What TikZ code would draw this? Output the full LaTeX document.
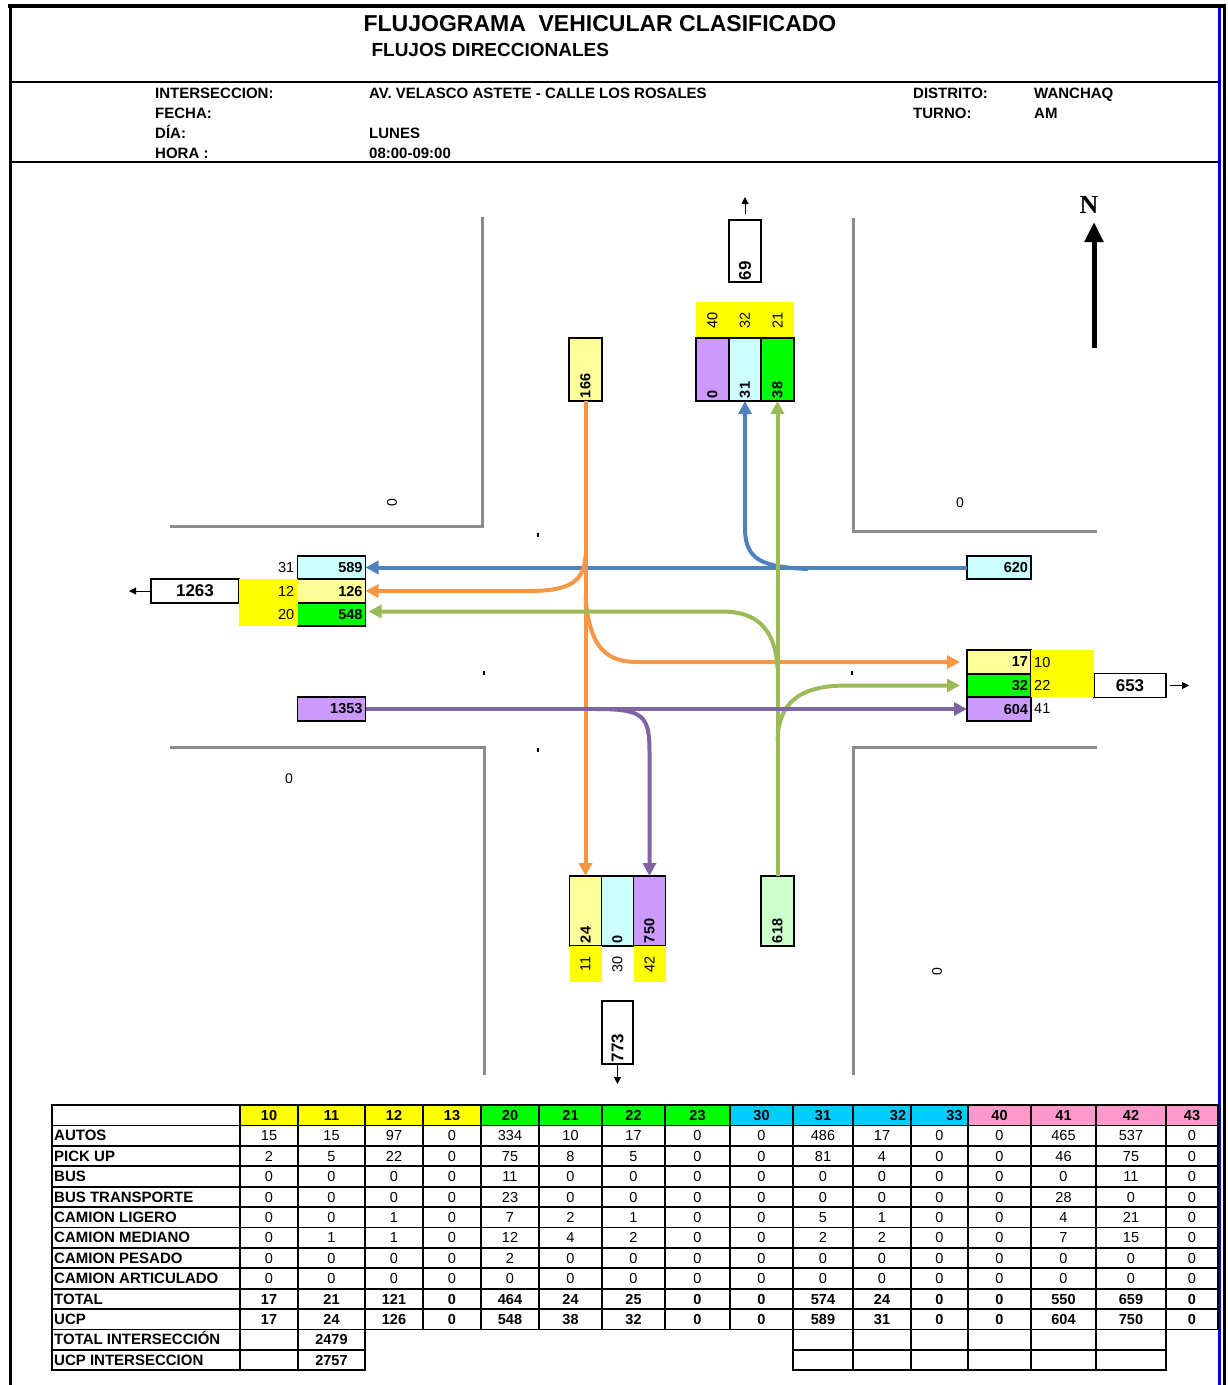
\documentclass[tikz,border=0pt]{standalone}
\usepackage{fontspec}
\setmainfont{Liberation Sans}
\newfontfamily\serifmark{Liberation Serif}
\usetikzlibrary{arrows.meta,positioning,calc}
\definecolor{flowblue}{HTML}{4F81BD}
\definecolor{floworange}{HTML}{F79646}
\definecolor{flowgreen}{HTML}{9BBB59}
\definecolor{flowpurple}{HTML}{8064A2}
\definecolor{cellcyan}{HTML}{CCFFFF}
\definecolor{cellyellow}{HTML}{FFFF99}
\definecolor{cellgreen}{HTML}{00FF00}
\definecolor{cellpurple}{HTML}{CC99FF}
\definecolor{cellmint}{HTML}{CCFFCC}
\definecolor{bgyellow}{HTML}{FFFF00}
\definecolor{headcyan}{HTML}{00CCFF}
\definecolor{headpink}{HTML}{FF99CC}
\definecolor{frameblue}{HTML}{0000EE}
\tikzset{
  hbox/.style={
    draw,
    line width=1.6pt,
    outer sep=0pt,
    inner sep=3pt,
    text width=62pt,
    minimum height=23.5pt,
    align=right,
    font=\bfseries\fontsize{14.5}{15}\selectfont
  },
  vbox/.style={
    draw,
    line width=1.6pt,
    outer sep=0pt,
    inner sep=3pt,
    rotate=90,
    text width=#1,
    minimum height=32.5pt,
    align=left,
    font=\bfseries\fontsize{14.5}{15}\selectfont
  },
  outbox/.style={
    draw,
    fill=white,
    line width=1.6pt,
    outer sep=0pt,
    inner sep=2pt,
    minimum height=24pt,
    font=\bfseries\fontsize{17}{17}\selectfont
  },
  sidenum/.style={inner sep=0pt, font=\fontsize{14.5}{15}\selectfont},
  zerolab/.style={inner sep=0pt, font=\fontsize{14}{14}\selectfont},
  info/.style={anchor=base west, inner sep=0pt, font=\bfseries\fontsize{15}{15}\selectfont},
  flow/.style={line width=4pt, draw=#1, -{Triangle[length=13pt,width=13pt]}},
  outarrow/.style={line width=1pt, -{Triangle[length=7pt,width=7pt]}},
  roadedge/.style={line width=3pt, draw=black!45, line join=miter},
  tick/.style={line width=1.5pt},
  tabgrid/.style={line width=1.8pt, line cap=rect},
  tabnum/.style={anchor=base, inner sep=0pt, font=\fontsize{14.5}{15}\selectfont},
  tabbold/.style={anchor=base, inner sep=0pt, font=\bfseries\fontsize{14.5}{15}\selectfont},
  tablab/.style={anchor=base west, inner sep=0pt, font=\bfseries\fontsize{15}{15}\selectfont}
}

\begin{document}
\begin{tikzpicture}[x=1pt, y=-1pt]
\useasboundingbox (0,0) rectangle (1227,1385);

% page frame and header
\draw[line width=4pt] (8,6) -- (1226,6);
\draw[line width=3pt] (10,4) -- (10,1385);
\draw[line width=3pt, frameblue] (1219,8) -- (1219,1385);
\draw[line width=2.5pt] (1224.5,4) -- (1224.5,1385);
\draw[line width=2.5pt] (11,82) -- (1218,82);
\draw[line width=2.5pt] (11,162) -- (1218,162);

\node[font=\bfseries\fontsize{23}{23}\selectfont] (title) at (600,24) {FLUJOGRAMA\ \ VEHICULAR CLASIFICADO};
\node[anchor=west, font=\bfseries\fontsize{19}{19}\selectfont] (subtitle) at (368,50) {FLUJOS DIRECCIONALES};

\node[info] (intL) at (155,98.4) {INTERSECCION:};
\node[info] (fecL) at (155,118.4) {FECHA:};
\node[info] (diaL) at (155,138.4) {DÍA:};
\node[info] (horL) at (155,158.4) {HORA :};
\node[info] (intV) at (369,98.4) {AV. VELASCO ASTETE - CALLE LOS ROSALES};
\node[info] (diaV) at (369,138.4) {LUNES};
\node[info] (horV) at (369,158.4) {08:00-09:00};
\node[info] (disL) at (913,98.4) {DISTRITO:};
\node[info] (disV) at (1034,98.4) {WANCHAQ};
\node[info] (turL) at (913,118.4) {TURNO:};
\node[info] (turV) at (1034,118.4) {AM};

% road edges
\draw[roadedge] (170,526) -- (482,526) -- (482,217);
\draw[roadedge] (853,218) -- (853,531) -- (1097,531);
\draw[roadedge] (170,747) -- (484,747) -- (484,1075);
\draw[roadedge] (1097,747) -- (853,747) -- (853,1075);
\draw[tick] (538,533) -- (538,537);
\draw[tick] (484,671) -- (484,675);
\draw[tick] (538,748) -- (538,752);
\draw[tick] (852,671) -- (852,675);

\node[zerolab, rotate=90] (zeroNW) at (392,503) {0};
\node[zerolab] (zeroNE) at (960,503) {0};
\node[zerolab] (zeroSW) at (289,779) {0};
\node[zerolab, rotate=90] (zeroSE) at (937,972) {0};

% west approach
\node[hbox, fill=cellcyan] (wS) at (331.5,567.5) {589};
\node[hbox, fill=cellyellow, below=0pt of wS] (wT) {126};
\node[hbox, fill=cellgreen, below=0pt of wT] (wL) {548};
\node[outbox, minimum width=88pt] (wOut) at (195,591) {1263};
\fill[bgyellow] (wT.north west -| wOut.east) rectangle (wL.south west);
\node[sidenum, left=3pt of wS] (wSn) {31};
\node[sidenum, left=3pt of wT] (wTn) {12};
\node[sidenum, left=3pt of wL] (wLn) {20};
\node[hbox, fill=cellpurple] (wIn) at (331.5,709) {1353};
\coordinate (wOutEnd) at (129,591);
\draw[outarrow] (wOut.west) -- (wOutEnd);

% east approach
\node[hbox, fill=cellcyan, text width=58pt] (eIn) at (999,567.5) {620};
\node[hbox, fill=cellyellow, text width=58pt] (eL) at (999,662) {17};
\node[hbox, fill=cellgreen, text width=58pt, below=0pt of eL] (eT) {32};
\node[hbox, fill=cellpurple, text width=58pt, below=0pt of eT] (eR) {604};
\node[outbox, minimum width=72pt] (eOut) at (1130,685.5) {653};
\fill[bgyellow] (eL.north east) rectangle (eT.south east -| eOut.west);
\node[sidenum, right=3pt of eL] (eLn) {10};
\node[sidenum, right=3pt of eT] (eTn) {22};
\node[sidenum, right=3pt of eR] (eRn) {41};
\coordinate (eOutEnd) at (1189,685.5);
\draw[outarrow] ([xshift=4pt]eOut.east) -- (eOutEnd);

% north approach
\fill[bgyellow] (696,302) rectangle (793.5,338);
\node[vbox=57pt, fill=cellpurple] (nL) at (712.5,369.5) {0};
\node[vbox=57pt, fill=cellcyan] (nT) at (745,369.5) {31};
\node[vbox=57pt, fill=cellgreen] (nR) at (777.5,369.5) {38};
\node[sidenum, rotate=90] (nLn) at (712.5,320) {40};
\node[sidenum, rotate=90] (nTn) at (745,320) {32};
\node[sidenum, rotate=90] (nRn) at (777.5,320) {21};
\node[vbox=57pt, fill=cellyellow] (nIn) at (585.5,369.5) {166};
\node[vbox=58pt, outbox, minimum height=32pt] (nOut) at (745,251) {69};
\coordinate (nOutEnd) at (745,197);
\draw[outarrow] ([yshift=6pt]nOut.east) -- (nOutEnd);

% south approach
\node[vbox=64pt, fill=cellyellow, minimum height=32pt] (sR) at (585.5,911) {24};
\node[vbox=64pt, fill=cellcyan, minimum height=32pt] (sT) at (617.5,911) {0};
\node[vbox=64pt, fill=cellpurple, minimum height=32pt] (sL) at (649.5,911) {750};
\fill[bgyellow] (569.5,946) rectangle (601.5,982);
\fill[bgyellow] (633.5,946) rectangle (665.5,982);
\node[sidenum, rotate=90] (sRn) at (585.5,964) {11};
\node[sidenum, rotate=90] (sTn) at (617.5,964) {30};
\node[sidenum, rotate=90] (sLn) at (649.5,964) {42};
\node[vbox=64pt, fill=cellmint] (sIn) at (777.5,911) {618};
\node[vbox=59pt, outbox, minimum height=31pt] (sOut) at (617.5,1032.5) {773};
\coordinate (sOutEnd) at (617.5,1084);
\draw[outarrow] (sOut.west) -- (sOutEnd);

% flows
\coordinate (bTurn) at (808,569);
\coordinate (oRight) at (585.5,556);
\coordinate (oLeft) at (585.5,598);
\coordinate (gLeft) at (777.5,668);
\coordinate (gRight) at (777.5,742);
\coordinate (pTurn) at (596,709);
\draw[flow=flowblue] (eIn.west) -- (wS.east);
\draw[flow=flowblue] (bTurn) .. controls (762,567) and (745,560) .. (745,528) -- (nT.west);
\draw[flow=floworange] (nIn.west) -- (sR.east);
\draw[flow=floworange] (oRight) .. controls (584,584) and (566,591) .. (528,591) -- (wT.east);
\draw[flow=floworange, shorten >=7pt] (oLeft) .. controls (590,648) and (606,662) .. (638,662) -- (eL.west);
\draw[flow=flowgreen] (sIn.east) -- (nR.west);
\draw[flow=flowgreen, shorten >=3pt] (gLeft) .. controls (775,624) and (752,611.5) .. (722,611.5) -- ([yshift=3pt]wL.east);
\draw[flow=flowgreen, shorten >=7pt] (gRight) .. controls (778,702) and (800,686) .. (845,685.5) -- (eT.west);
\draw[flow=flowpurple] (wIn.east) -- (eR.west);
\draw[flow=flowpurple] (pTurn) .. controls (644,709) and (649.5,716) .. (649.5,752) -- (sL.east);

% north mark
\node[font=\serifmark\bfseries\fontsize{26}{26}\selectfont, inner sep=0pt] (nMark) at (1089,205) {N};
\coordinate (nTail) at (1094,348);
\coordinate (nTip) at (1094,222);
\draw[line width=5pt, -{Triangle[length=20pt,width=18pt]}] (nTail) -- (nTip);

% summary table
\def\colx{{52,240,298,365,423,481,539,602,665,730,793,853,911,968,1031,1096,1166,1218}}
\def\rowh{20.4}
\def\bsh{5.2}
\foreach \h/\clr/\dx [count=\c] in {10/bgyellow/0,11/bgyellow/0,12/bgyellow/0,13/bgyellow/0,
  20/cellgreen/0,21/cellgreen/0,22/cellgreen/0,23/cellgreen/0,
  30/headcyan/0,31/headcyan/0,32/headcyan/16,33/headcyan/15,
  40/headpink/0,41/headpink/0,42/headpink/0,43/headpink/0} {
  \pgfmathsetmacro\xl{\colx[\c]}
  \pgfmathsetmacro\xr{\colx[\c+1]}
  \fill[\clr] (\xl,1105) rectangle (\xr,1105+\rowh);
  \node[tabbold] (h\h) at ({(\xl+\xr)/2+\dx},1105+\rowh/2+\bsh) {\h};
}
\foreach \lab/\vals/\wt [count=\r] in {
  AUTOS/{15,15,97,0,334,10,17,0,0,486,17,0,0,465,537,0}/tabnum,
  PICK UP/{2,5,22,0,75,8,5,0,0,81,4,0,0,46,75,0}/tabnum,
  BUS/{0,0,0,0,11,0,0,0,0,0,0,0,0,0,11,0}/tabnum,
  BUS TRANSPORTE/{0,0,0,0,23,0,0,0,0,0,0,0,0,28,0,0}/tabnum,
  CAMION LIGERO/{0,0,1,0,7,2,1,0,0,5,1,0,0,4,21,0}/tabnum,
  CAMION MEDIANO/{0,1,1,0,12,4,2,0,0,2,2,0,0,7,15,0}/tabnum,
  CAMION PESADO/{0,0,0,0,2,0,0,0,0,0,0,0,0,0,0,0}/tabnum,
  CAMION ARTICULADO/{0,0,0,0,0,0,0,0,0,0,0,0,0,0,0,0}/tabnum,
  TOTAL/{17,21,121,0,464,24,25,0,0,574,24,0,0,550,659,0}/tabbold,
  UCP/{17,24,126,0,548,38,32,0,0,589,31,0,0,604,750,0}/tabbold} {
  \node[tablab] (l\r) at (54,{1105+\rowh*(\r+0.5)+\bsh}) {\lab};
  \foreach \v [count=\c] in \vals {
    \pgfmathsetmacro\xl{\colx[\c]}
    \pgfmathsetmacro\xr{\colx[\c+1]}
    \node[\wt] (d\r-\c) at ({(\xl+\xr)/2},{1105+\rowh*(\r+0.5)+\bsh}) {\v};
  }
}
\node[tablab] (totInt) at (54,{1105+\rowh*11.5+\bsh}) {TOTAL INTERSECCIÓN};
\node[tabbold] (totIntV) at (331.5,{1105+\rowh*11.5+\bsh}) {2479};
\node[tablab] (ucpInt) at (54,{1105+\rowh*12.5+\bsh}) {UCP INTERSECCION};
\node[tabbold] (ucpIntV) at (331.5,{1105+\rowh*12.5+\bsh}) {2757};

% grid
\foreach \r in {0,...,11}
  \draw[tabgrid] (52,{1105+\rowh*\r}) -- (1218,{1105+\rowh*\r});
\foreach \i in {0,...,17} {
  \pgfmathsetmacro\xx{\colx[\i]}
  \draw[tabgrid] (\xx,1105) -- (\xx,{1105+\rowh*11});
}
\foreach \r in {12,13} {
  \draw[tabgrid] (52,{1105+\rowh*\r}) -- (365,{1105+\rowh*\r});
  \draw[tabgrid] (793,{1105+\rowh*\r}) -- (1166,{1105+\rowh*\r});
}
\foreach \xx in {52,240,298,365,793,853,911,968,1031,1096,1166}
  \draw[tabgrid] (\xx,{1105+\rowh*11}) -- (\xx,{1105+\rowh*13});
\end{tikzpicture}
\end{document}
